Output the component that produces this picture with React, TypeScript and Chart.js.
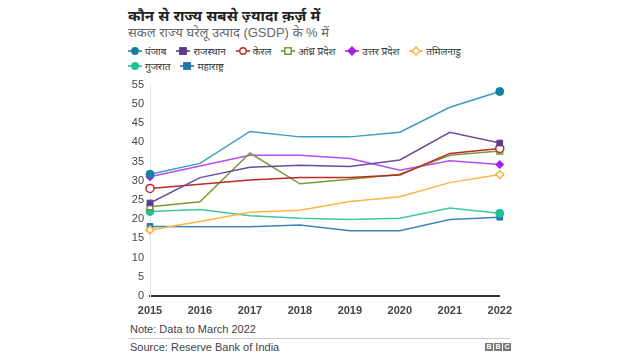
import React, { useEffect, useRef } from "react";
import { Chart, registerables } from "chart.js";

Chart.register(...registerables);

const years = ["2015", "2016", "2017", "2018", "2019", "2020", "2021", "2022"];
const yTicks = [0, 5, 10, 15, 20, 25, 30, 35, 40, 45, 50, 55];

const punjab = [31.7, 34.5, 42.8, 41.4, 41.4, 42.6, 49.1, 53.2];
const rajasthan = [24.2, 30.8, 33.5, 34.0, 33.7, 35.4, 42.6, 39.8];
const kerala = [28.0, 29.1, 30.2, 30.8, 30.8, 31.5, 37.1, 38.4];
const andhra = [23.2, 24.5, 37.2, 29.2, 30.4, 31.7, 36.6, 37.7];
const up = [31.0, 33.8, 36.6, 36.6, 35.8, 32.7, 35.2, 34.2];
const tamilnadu = [17.2, 19.4, 21.8, 22.3, 24.6, 25.8, 29.5, 31.6];
const gujarat = [22.0, 22.5, 20.9, 20.2, 19.9, 20.2, 22.9, 21.5];
const maharashtra = [18.1, 18.0, 18.0, 18.5, 17.0, 17.0, 19.9, 20.5];

type S = { name: string; data: number[]; color: string; line: string; style: string; hollow: boolean };

const series: S[] = [
  { name: "पंजाब", data: punjab, color: "#1780a1", line: "#3c9cbc", style: "circle", hollow: false },
  { name: "राजस्थान", data: rajasthan, color: "#5b3b8c", line: "#6a4c9c", style: "rect", hollow: false },
  { name: "केरल", data: kerala, color: "#b82b27", line: "#b82b27", style: "circle", hollow: true },
  { name: "आंध्र प्रदेश", data: andhra, color: "#6f9a2a", line: "#7a9a35", style: "rect", hollow: true },
  { name: "उत्तर प्रदेश", data: up, color: "#a81cf0", line: "#b84cf5", style: "rectRot", hollow: false },
  { name: "तमिलनाडु", data: tamilnadu, color: "#fcaf38", line: "#fdb444", style: "rectRot", hollow: true },
  { name: "गुजरात", data: gujarat, color: "#22c195", line: "#3cc9a4", style: "circle", hollow: false },
  { name: "महाराष्ट्र", data: maharashtra, color: "#1f78a8", line: "#3a86b4", style: "rect", hollow: false },
];

const FONT = "Arial, 'Liberation Sans', 'Noto Sans', sans-serif";

function Icon({ s }: { s: S }) {
  const fill = s.hollow ? "#fff" : s.color;
  let shape;
  if (s.style === "circle") shape = <circle cx={7} cy={5} r={3.2} fill={fill} stroke={s.color} strokeWidth={1.4} />;
  else if (s.style === "rect") shape = <rect x={3.8} y={1.8} width={6.4} height={6.4} fill={fill} stroke={s.color} strokeWidth={1.4} />;
  else shape = <rect x={4.2} y={2.2} width={5.6} height={5.6} fill={fill} stroke={s.color} strokeWidth={1.4} transform="rotate(45 7 5)" />;
  return (
    <svg width={14} height={10} style={{ marginRight: 3 }}>
      <line x1={0} y1={5} x2={14} y2={5} stroke={s.color} strokeWidth={1.6} />
      {shape}
    </svg>
  );
}

export default function App() {
  const ref = useRef<HTMLCanvasElement>(null);
  useEffect(() => {
    const ctx = ref.current!;
    const n = years.length;
    const chart = new Chart(ctx, {
      type: "line",
      data: {
        labels: years,
        datasets: series.map((s) => ({
          label: s.name,
          data: s.data,
          borderColor: s.line,
          borderWidth: 1.5,
          pointStyle: s.style as any,
          pointRadius: s.data.map((_, i) => (i === 0 || i === n - 1 ? 4 : 0)),
          pointBackgroundColor: s.hollow ? "#fff" : s.color,
          pointBorderColor: s.color,
          pointBorderWidth: s.hollow ? 1.5 : 1,
          tension: 0,
        })),
      },
      options: {
        animation: false,
        responsive: false,
        maintainAspectRatio: false,
        layout: { padding: { top: 11, right: 0, left: 0, bottom: 0 } },
        plugins: { legend: { display: false }, tooltip: { enabled: false } },
        scales: {
          x: {
            type: "category",
            offset: false,
            grid: { display: false, drawTicks: false },
            border: { display: true, color: "#333", width: 2 },
            ticks: { color: "#444", font: { family: FONT, size: 11, weight: "bold" }, padding: 8, maxRotation: 0 },
            afterFit: (sc: any) => { sc.height = 22; },
          },
          y: {
            min: 0,
            max: 55,
            afterBuildTicks: (sc: any) => { sc.ticks = yTicks.map((v) => ({ value: v })); },
            grid: { display: false, drawTicks: false },
            border: { display: true, color: "#e4e4e4", width: 1 },
            ticks: { color: "#444", font: { family: FONT, size: 11 }, padding: 6 },
            afterFit: (sc: any) => { sc.width = 30; },
          },
        },
      },
    });
    return () => chart.destroy();
  }, []);

  return (
    <div style={{ position: "absolute", left: 0, top: 0, width: 640, height: 360, background: "#fff", fontFamily: FONT, overflow: "hidden" }}>
      <div style={{ position: "absolute", left: 128, top: 5, fontSize: 15, fontWeight: "bold", color: "#222", whiteSpace: "nowrap" }}>
        कौन से राज्य सबसे ज़्यादा क़र्ज़ में
      </div>
      <div style={{ position: "absolute", left: 128, top: 23, fontSize: 13, color: "#666", whiteSpace: "nowrap" }}>
        सकल राज्य घरेलू उत्पाद (GSDP) के % में
      </div>
      <div style={{ position: "absolute", left: 128, top: 43, width: 345, display: "flex", flexWrap: "wrap", rowGap: 0 }}>
        {series.map((s) => (
          <div key={s.name} style={{ display: "flex", alignItems: "center", marginRight: 10, fontSize: 10, color: "#333", height: 15, whiteSpace: "nowrap" }}>
            <Icon s={s} />
            {s.name}
          </div>
        ))}
      </div>
      <canvas ref={ref} width={400} height={246} style={{ position: "absolute", left: 120, top: 72, width: 400, height: 246 }} />
      <div style={{ position: "absolute", left: 130, top: 323, fontSize: 11, color: "#444", whiteSpace: "nowrap" }}>Note: Data to March 2022</div>
      <div style={{ position: "absolute", left: 128, top: 338, width: 382, height: 1, background: "#ccc" }} />
      <div style={{ position: "absolute", left: 130, top: 341, fontSize: 11, color: "#444", whiteSpace: "nowrap" }}>Source: Reserve Bank of India</div>
      <div style={{ position: "absolute", left: 485, top: 343, display: "flex", gap: 1 }}>
        {["B", "B", "C"].map((c, i) => (
          <div key={i} style={{ width: 8, height: 8, background: "#777", color: "#fff", fontSize: 7, fontWeight: "bold", lineHeight: "8px", textAlign: "center" }}>{c}</div>
        ))}
      </div>
    </div>
  );
}
